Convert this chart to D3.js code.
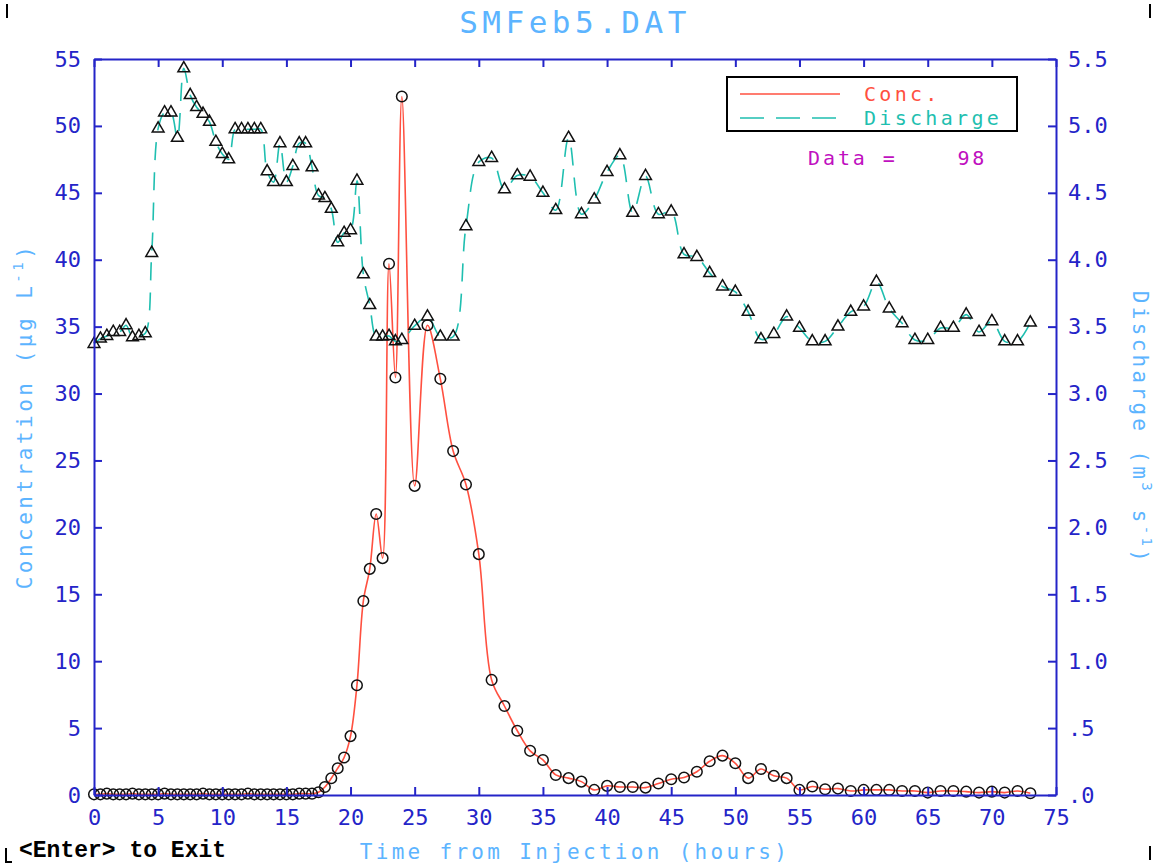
<!DOCTYPE html>
<html>
<head>
<meta charset="utf-8">
<script src="https://cdn.jsdelivr.net/npm/d3@7"></script>
<style>
  body { margin: 0; background: #fff; }
  svg { display: block; }
  .mono { font-family: "DejaVu Sans Mono", monospace; }
</style>
</head>
<body>
<div id="chart"></div>
<script>
// sample times (hours from injection)
var times = [0, 0.5, 1, 1.5, 2, 2.5, 3, 3.5, 4, 4.5, 5, 5.5, 6, 6.5, 7, 7.5, 8, 8.5, 9, 9.5,
  10, 10.5, 11, 11.5, 12, 12.5, 13, 13.5, 14, 14.5, 15, 15.5, 16, 16.5, 17, 17.5, 18, 18.5,
  19, 19.5, 20, 20.5, 21, 21.5, 22, 22.5, 23, 23.5, 24,
  25, 26, 27, 28, 29, 30, 31, 32, 33, 34, 35, 36, 37, 38, 39, 40, 41, 42, 43, 44,
  45, 46, 47, 48, 49, 50, 51, 52, 53, 54, 55, 56, 57, 58, 59, 60, 61, 62, 63, 64,
  65, 66, 67, 68, 69, 70, 71, 72, 73];

// concentration (ug/L)
var conc = [0.05, 0.05, 0.1, 0.05, 0.05, 0.05, 0.1, 0.05, 0.05, 0.05, 0.05, 0.1, 0.05, 0.05, 0.05, 0.05, 0.05, 0.1, 0.05, 0.05,
  0.05, 0.05, 0.05, 0.05, 0.1, 0.05, 0.05, 0.05, 0.05, 0.05, 0.05, 0.05, 0.1, 0.1, 0.1, 0.2, 0.6, 1.25,
  2.0, 2.8, 4.4, 8.2, 14.5, 16.9, 21.0, 17.7, 39.7, 31.2, 52.2,
  23.1, 35.1, 31.1, 25.7, 23.2, 18.0, 8.6, 6.65, 4.8, 3.3, 2.62, 1.5, 1.26, 1.0, 0.38, 0.68, 0.6, 0.6, 0.55, 0.86,
  1.18, 1.31, 1.74, 2.52, 2.94, 2.37, 1.26, 1.94, 1.43, 1.26, 0.38, 0.63, 0.43, 0.48, 0.3, 0.38, 0.38, 0.38, 0.3, 0.3,
  0.18, 0.3, 0.3, 0.25, 0.18, 0.25, 0.18, 0.3, 0.13];

// discharge (m3/s)
var discharge = [3.37, 3.41, 3.43, 3.46, 3.46, 3.51, 3.42, 3.43, 3.45, 4.05, 4.98, 5.10, 5.10, 4.91, 5.43, 5.23, 5.14, 5.09, 5.03, 4.88,
  4.79, 4.75, 4.975, 4.975, 4.975, 4.975, 4.975, 4.66, 4.58, 4.87, 4.58, 4.70, 4.87, 4.87, 4.69, 4.48, 4.46, 4.38,
  4.13, 4.20, 4.22, 4.59, 3.89, 3.66, 3.425, 3.425, 3.43, 3.39, 3.40,
  3.505, 3.575, 3.425, 3.425, 4.25, 4.73, 4.76, 4.525, 4.63, 4.62, 4.50, 4.37, 4.91, 4.34, 4.45, 4.655, 4.78, 4.35, 4.625, 4.34,
  4.36, 4.04, 4.02, 3.90, 3.80, 3.76, 3.61, 3.405, 3.445, 3.575, 3.49, 3.39, 3.39, 3.50, 3.61, 3.65, 3.835, 3.635, 3.525, 3.40,
  3.40, 3.49, 3.49, 3.59, 3.46, 3.54, 3.39, 3.39, 3.53];

var xTicks = [0, 5, 10, 15, 20, 25, 30, 35, 40, 45, 50, 55, 60, 65, 70, 75];
var concTicks = [0, 5, 10, 15, 20, 25, 30, 35, 40, 45, 50, 55];
var dischTicks = [0, 0.5, 1, 1.5, 2, 2.5, 3, 3.5, 4, 4.5, 5, 5.5];

var width = 1165,
    height = 866,
    plotL = 94, plotR = 1056, plotT = 59, plotB = 795;

var axisColor = "#2424c8",
    titleColor = "#5cb4ff",
    concColor = "#ff5040",
    dischColor = "#1fbfb0";

var x = d3.scaleLinear().domain([0, 75]).range([plotL, plotR]);
var y = d3.scaleLinear().domain([0, 55]).range([plotB, plotT]);
var y2 = d3.scaleLinear().domain([0, 5.5]).range([plotB, plotT]);

var data = times.map(function (t, i) {
  return { t: t, c: conc[i], q: discharge[i] };
});

var svg = d3.select("#chart").append("svg")
    .attr("width", width)
    .attr("height", height);

// lines
var concLine = d3.line()
    .x(function (d) { return x(d.t); })
    .y(function (d) { return y(d.c); })
    .curve(d3.curveCatmullRom);

var dischLine = d3.line()
    .x(function (d) { return x(d.t); })
    .y(function (d) { return y2(d.q); })
    .curve(d3.curveCatmullRom);

svg.append("path")
    .datum(data)
    .attr("d", concLine)
    .attr("fill", "none")
    .attr("stroke", concColor)
    .attr("stroke-width", 1.6);

svg.append("path")
    .datum(data)
    .attr("d", dischLine)
    .attr("fill", "none")
    .attr("stroke", dischColor)
    .attr("stroke-width", 1.6)
    .attr("stroke-dasharray", "18,12");

// markers
svg.append("g").selectAll("circle")
    .data(data)
    .enter().append("circle")
    .attr("cx", function (d) { return x(d.t); })
    .attr("cy", function (d) { return y(d.c); })
    .attr("r", 5.3)
    .attr("fill", "none")
    .attr("stroke", "#111")
    .attr("stroke-width", 1.5);

var tri = d3.symbol().type(d3.symbolTriangle).size(60);
svg.append("g").selectAll("path")
    .data(data)
    .enter().append("path")
    .attr("d", tri)
    .attr("transform", function (d) { return "translate(" + x(d.t) + "," + y2(d.q) + ")"; })
    .attr("fill", "none")
    .attr("stroke", "#111")
    .attr("stroke-width", 1.5);

// axes
function styleAxis(g) {
  g.selectAll("path.domain").attr("stroke", axisColor).attr("stroke-width", 2);
  g.selectAll(".tick line").attr("stroke", axisColor).attr("stroke-width", 2);
  g.selectAll(".tick text")
      .attr("fill", axisColor)
      .attr("class", "mono")
      .style("font-size", "22px");
}

svg.append("g")
    .attr("transform", "translate(0," + plotB + ")")
    .call(d3.axisBottom(x).tickValues(xTicks).tickSizeInner(-8).tickSizeOuter(0).tickPadding(14))
    .call(styleAxis);

svg.append("g")
    .attr("transform", "translate(0," + plotT + ")")
    .call(d3.axisTop(x).tickValues(xTicks).tickSizeInner(-8).tickSizeOuter(0).tickFormat(""))
    .call(styleAxis);

svg.append("g")
    .attr("transform", "translate(" + plotL + ",0)")
    .call(d3.axisLeft(y).tickValues(concTicks).tickSizeInner(-8).tickSizeOuter(0).tickPadding(13))
    .call(styleAxis);

svg.append("g")
    .attr("transform", "translate(" + plotR + ",0)")
    .call(d3.axisRight(y2).tickValues(dischTicks).tickSizeInner(-8).tickSizeOuter(0).tickPadding(12)
      .tickFormat(function (d) { return d < 1 ? d3.format(".1f")(d).replace("0.", ".") : d3.format(".1f")(d); }))
    .call(styleAxis);

// titles
svg.append("text")
    .attr("class", "mono")
    .attr("x", 575).attr("y", 33)
    .attr("text-anchor", "middle")
    .attr("fill", titleColor)
    .style("font-size", "31px")
    .style("letter-spacing", "4.5px")
    .text("SMFeb5.DAT");

svg.append("text")
    .attr("class", "mono")
    .attr("x", 575).attr("y", 859)
    .attr("text-anchor", "middle")
    .attr("fill", titleColor)
    .style("font-size", "21px")
    .style("letter-spacing", "3.3px")
    .text("Time from Injection (hours)");

var yTitle = svg.append("text")
    .attr("class", "mono")
    .attr("transform", "translate(32,416) rotate(-90)")
    .attr("text-anchor", "middle")
    .attr("fill", titleColor)
    .style("font-size", "21px")
    .style("letter-spacing", "3.5px");
yTitle.append("tspan").text("Concentration (\u03bcg L");
yTitle.append("tspan").attr("dy", -9).style("font-size", "14px").text("-1");
yTitle.append("tspan").attr("dy", 9).text(")");

var y2Title = svg.append("text")
    .attr("class", "mono")
    .attr("transform", "translate(1133,428) rotate(90)")
    .attr("text-anchor", "middle")
    .attr("fill", titleColor)
    .style("font-size", "21px")
    .style("letter-spacing", "3.3px");
y2Title.append("tspan").text("Discharge (m");
y2Title.append("tspan").attr("dy", -9).style("font-size", "14px").text("3");
y2Title.append("tspan").attr("dy", 9).text(" s");
y2Title.append("tspan").attr("dy", -9).style("font-size", "14px").text("-1");
y2Title.append("tspan").attr("dy", 9).text(")");

// legend
var legend = svg.append("g");
legend.append("rect")
    .attr("x", 727).attr("y", 77)
    .attr("width", 290).attr("height", 54)
    .attr("fill", "#fff")
    .attr("stroke", "#000")
    .attr("stroke-width", 2);
legend.append("line")
    .attr("x1", 740).attr("x2", 840).attr("y1", 94).attr("y2", 94)
    .attr("stroke", concColor).attr("stroke-width", 1.6);
legend.append("line")
    .attr("x1", 740).attr("x2", 838).attr("y1", 118).attr("y2", 118)
    .attr("stroke", dischColor).attr("stroke-width", 1.6)
    .attr("stroke-dasharray", "24,12");
legend.append("text")
    .attr("class", "mono")
    .attr("x", 864).attr("y", 101)
    .attr("fill", concColor)
    .style("font-size", "20px")
    .style("letter-spacing", "3.3px")
    .text("Conc.");
legend.append("text")
    .attr("class", "mono")
    .attr("x", 864).attr("y", 125)
    .attr("fill", dischColor)
    .style("font-size", "20px")
    .style("letter-spacing", "3.3px")
    .text("Discharge");

svg.append("text")
    .attr("class", "mono")
    .attr("x", 808).attr("y", 165)
    .attr("fill", "#c010c0")
    .style("font-size", "20px")
    .style("letter-spacing", "2.9px")
    .style("white-space", "pre")
    .text("Data =    " + data.length);

svg.append("text")
    .attr("x", 19).attr("y", 857)
    .attr("fill", "#000")
    .style("font-family", "'Liberation Mono', monospace")
    .style("font-weight", "bold")
    .style("font-size", "23px")
    .text("<Enter> to Exit");

// screen corner marks
svg.append("path")
    .attr("d", "M7,4V18M1150,4V18M6,848V862H12M1150,846V860")
    .attr("fill", "none")
    .attr("stroke", "#000")
    .attr("stroke-width", 2);
</script>
</body>
</html>
